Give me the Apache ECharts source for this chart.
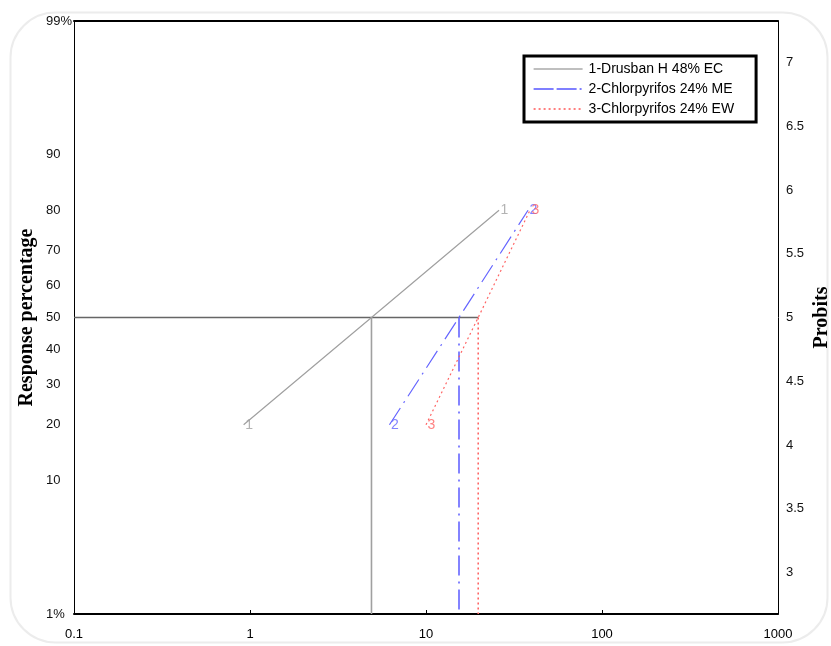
<!DOCTYPE html>
<html>
<head>
<meta charset="utf-8">
<script src="https://cdn.jsdelivr.net/npm/echarts@6/dist/echarts.min.js"></script>
<style>
html,body{margin:0;padding:0;background:#fff;}
#chart{width:831px;height:646px;}
</style>
</head>
<body>
<div id="chart"></div>
<script>
// ---- data ----
const seriesNames = ['1-Drusban H 48% EC', '2-Chlorpyrifos 24% ME', '3-Chlorpyrifos 24% EW'];
const pointLabels = ['1', '2', '3'];
const responsePct = [20, 50, 80];
const drusbanConc = [0.92, 4.9, 26];
const meConc = [6.2, 15.4, 38];
const ewConc = [10, 19.8, 39];
const pctTicks = [1, 10, 20, 30, 40, 50, 60, 70, 80, 90, 99];
const pctTickLabels = ['1%', '10', '20', '30', '40', '50', '60', '70', '80', '90', '99%'];
const probitTicks = [3, 3.5, 4, 4.5, 5, 5.5, 6, 6.5, 7];
const xTicks = [0.1, 1, 10, 100, 1000];

// inverse normal CDF (Acklam) -> probit scale
function normInv(p) {
  const a = [-3.969683028665376e+01, 2.209460984245205e+02, -2.759285104469687e+02, 1.383577518672690e+02, -3.066479806614716e+01, 2.506628277459239e+00];
  const b = [-5.447609879822406e+01, 1.615858368580409e+02, -1.556989798598866e+02, 6.680131188771972e+01, -1.328068155288572e+01];
  const c = [-7.784894002430293e-03, -3.223964580411365e-01, -2.400758277161838e+00, -2.549732539343734e+00, 4.374664141464968e+00, 2.938163982698783e+00];
  const d = [7.784695709041462e-03, 3.224671290700398e-01, 2.445134137142996e+00, 3.754408661907416e+00];
  const pl = 0.02425, ph = 1 - pl;
  let q, r;
  if (p < pl) {
    q = Math.sqrt(-2 * Math.log(p));
    return (((((c[0]*q+c[1])*q+c[2])*q+c[3])*q+c[4])*q+c[5]) / ((((d[0]*q+d[1])*q+d[2])*q+d[3])*q+1);
  } else if (p <= ph) {
    q = p - 0.5; r = q*q;
    return (((((a[0]*r+a[1])*r+a[2])*r+a[3])*r+a[4])*r+a[5])*q / (((((b[0]*r+b[1])*r+b[2])*r+b[3])*r+b[4])*r+1);
  } else {
    q = Math.sqrt(-2 * Math.log(1 - p));
    return -(((((c[0]*q+c[1])*q+c[2])*q+c[3])*q+c[4])*q+c[5]) / ((((d[0]*q+d[1])*q+d[2])*q+d[3])*q+1);
  }
}
const probit = pct => 5 + normInv(pct / 100);

const yMin = probit(pctTicks[0]);
const yMax = probit(pctTicks[pctTicks.length - 1]);
const pctTickProbits = pctTicks.map(probit);

const lineColors = ['#a0a0a0', '#6464ff', '#ff6464'];
const legendColors = ['#808080', '#0000ff', '#ff0000'];
const dashes = ['solid', [20, 6, 2, 6], [2, 3]];
const legendDashes = ['solid', [20, 3, 20, 3, 2, 3], [2, 3]];
const concs = [drusbanConc, meConc, ewConc];
const lc50Index = responsePct.indexOf(50);
const FONT = 'Liberation Sans, Arial, sans-serif';

const series = [];
// horizontal 50% line
const maxLc50 = Math.max(...concs.map(c => c[lc50Index]));
series.push({
  type: 'line', yAxisIndex: 1, silent: true, symbol: 'none',
  data: [[xTicks[0], probit(50)], [maxLc50, probit(50)]],
  lineStyle: { color: '#666666', width: 1.6 }, z: 1
});
// drop lines
concs.forEach((c, k) => {
  series.push({
    type: 'line', yAxisIndex: 1, silent: true, symbol: 'none',
    data: [[c[lc50Index], probit(50)], [c[lc50Index], yMin]],
    lineStyle: { color: lineColors[k], width: 1.6, type: dashes[k] }, z: 2
  });
});
// main lines
concs.forEach((c, k) => {
  series.push({
    name: seriesNames[k], type: 'line', yAxisIndex: 1, symbol: 'none',
    data: c.map((x, i) => [x, probit(responsePct[i])]),
    lineStyle: { color: lineColors[k], width: 1.2, type: dashes[k] },
    itemStyle: { color: lineColors[k] },
    z: 3 + k
  });
});
// end-point number labels
concs.forEach((c, k) => {
  const ends = [0, c.length - 1];
  series.push({
    type: 'scatter', yAxisIndex: 1, silent: true,
    symbol: 'circle', symbolSize: 1,
    itemStyle: { color: 'rgba(0,0,0,0)' },
    data: ends.map(i => [c[i], probit(responsePct[i])]),
    label: {
      show: true, formatter: pointLabels[k], position: 'right', distance: 1,
      offset: [0, 4],
      color: lineColors[k], fontFamily: FONT, fontSize: 14
    },
    labelLayout: { hideOverlap: false },
    z: 10 + k
  });
});

const chart = echarts.init(document.getElementById('chart'), null, { renderer: 'canvas' });
chart.setOption({
  animation: false,
  backgroundColor: '#ffffff',
  graphic: [{
    type: 'rect', left: 8, top: 10, silent: true, z: -10,
    shape: { width: 817, height: 630, r: 45 },
    style: { fill: 'none', stroke: '#ececec', lineWidth: 2 }
  }],
  grid: { left: 74, right: 53, top: 21, bottom: 32, containLabel: false, outerBoundsMode: 'none' },
  legend: {
    orient: 'vertical', left: 524, top: 56,
    data: seriesNames.map((n, k) => ({
      name: n,
      itemStyle: { color: legendColors[k], opacity: 0 },
      lineStyle: { color: legendColors[k], width: 1.2, type: legendDashes[k], opacity: 1 }
    })),
    itemWidth: 49, itemHeight: 14, itemGap: 6,
    padding: [6, 22, 6, 9],
    borderColor: '#000', borderWidth: 3,
    backgroundColor: '#fff',
    textStyle: { fontFamily: FONT, fontSize: 14, color: '#000', padding: [0, 0, 0, 1] },
    selectedMode: false
  },
  xAxis: [{
    type: 'log', logBase: 10, min: xTicks[0], max: xTicks[xTicks.length - 1],
    axisLine: { lineStyle: { color: '#000', width: 2 } },
    axisTick: { show: true, inside: true, length: 4, lineStyle: { color: '#000' } },
    minorTick: { show: false },
    splitLine: { show: false },
    axisLabel: {
      margin: 14, color: '#000', fontFamily: FONT, fontSize: 13,
      formatter: v => String(Number(Number(v).toPrecision(3)))
    }
  }, {
    type: 'log', logBase: 10, min: xTicks[0], max: xTicks[xTicks.length - 1], position: 'top',
    axisLine: { lineStyle: { color: '#000', width: 2 } },
    axisTick: { show: false }, axisLabel: { show: false }, splitLine: { show: false }
  }],
  yAxis: [{
    type: 'value', position: 'left', min: yMin, max: yMax,
    name: 'Response percentage', nameLocation: 'middle', nameRotate: 90, nameGap: 37,
    nameMoveOverlap: false,
    nameTextStyle: { fontFamily: 'Liberation Serif, Times New Roman, serif', fontWeight: 'bold', fontSize: 20, color: '#000' },
    axisLine: { show: true, lineStyle: { color: '#000', width: 1 } },
    axisTick: { show: false },
    splitLine: { show: false },
    axisLabel: {
      customValues: pctTickProbits, align: 'left', margin: 28,
      color: '#111', fontFamily: FONT, fontSize: 13,
      formatter: v => {
        let best = 0, bd = Infinity;
        pctTickProbits.forEach((p, i) => { const d = Math.abs(p - v); if (d < bd) { bd = d; best = i; } });
        return pctTickLabels[best];
      }
    }
  }, {
    type: 'value', position: 'right', min: yMin, max: yMax,
    name: 'Probits', nameLocation: 'middle', nameRotate: 90, nameGap: 34,
    nameMoveOverlap: false,
    nameTextStyle: { fontFamily: 'Liberation Serif, Times New Roman, serif', fontWeight: 'bold', fontSize: 20, color: '#000' },
    axisLine: { show: true, lineStyle: { color: '#000', width: 1 } },
    axisTick: { show: false },
    splitLine: { show: false },
    axisLabel: {
      customValues: probitTicks, margin: 8,
      color: '#111', fontFamily: FONT, fontSize: 13,
      formatter: v => String(v)
    }
  }],
  series: series
});
</script>
</body>
</html>
